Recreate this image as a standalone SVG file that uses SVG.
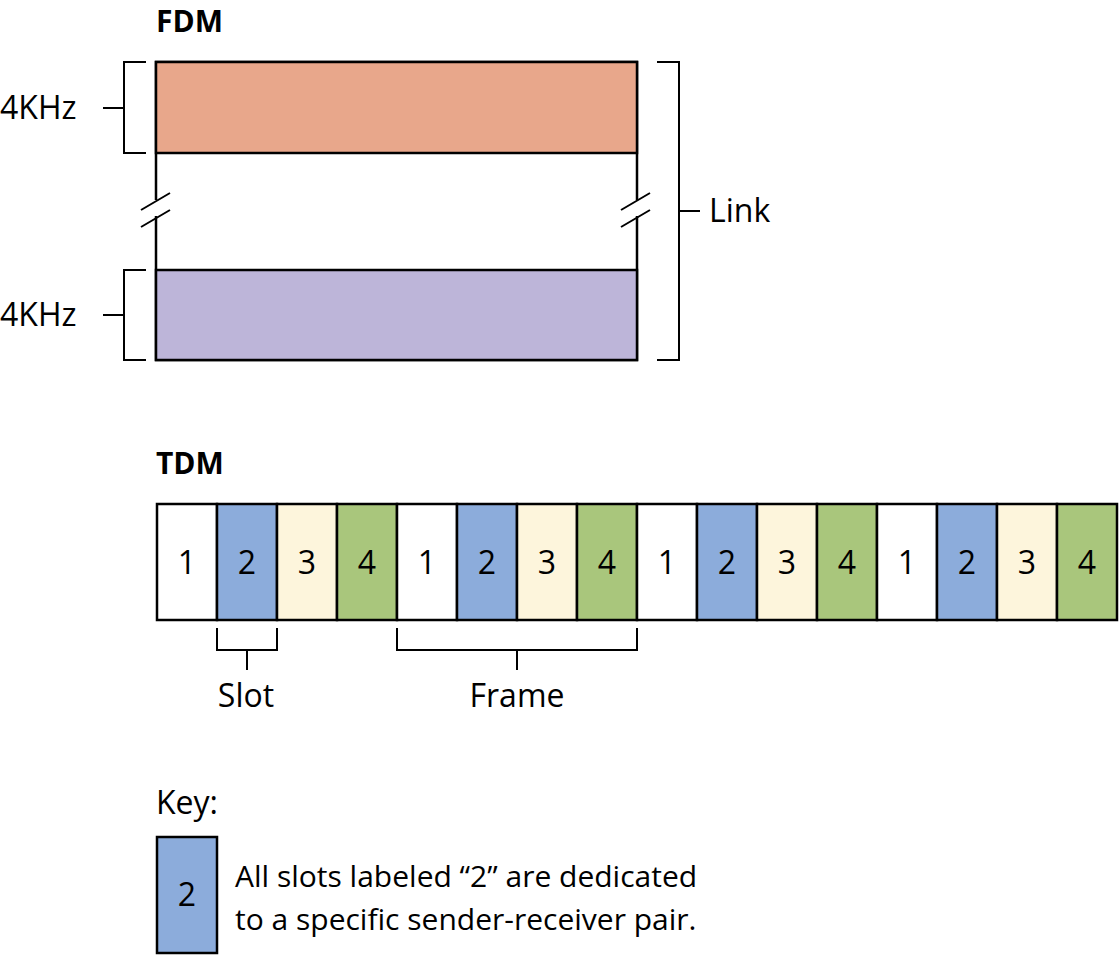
<svg xmlns="http://www.w3.org/2000/svg" width="1120" height="956" viewBox="0 0 1120 956">
<style>
text{font-family:"Open Sans","Noto Sans","Liberation Sans",sans-serif;fill:#000}
.t{font-size:32px}
.b{font-size:30px;font-weight:bold}
.n{font-size:32px;text-anchor:middle}
.c{stroke:#000;stroke-width:2.5}
.l{stroke:#000;stroke-width:2;fill:none}
.w{fill:#fff}.bl{fill:#8cacdb}.y{fill:#fdf5dc}.g{fill:#a9c67c}
</style>
<text class="b" x="156" y="32">FDM</text>
<g id="fdm">
<rect x="156" y="62" width="481" height="298" fill="#fff" class="c"/>
<rect x="156" y="62" width="481" height="91" fill="#e8a78b" class="c"/>
<rect x="156" y="270" width="481" height="90" fill="#bdb5d9" class="c"/>
<rect x="140" y="200" width="30" height="16" fill="#fff"/>
<rect x="621" y="200" width="30" height="16" fill="#fff"/>
<path class="l" d="M141 210 L170 193 M141 227 L170 210 M621 210 L650 193 M621 227 L650 210"/>
</g>
<g id="brackets">
<path class="l" d="M146 62 H124 V153 H146 M124 108 H103 M146 270 H124 V360 H146 M124 315 H103 M657 62 H679 V360 H657 M679 211 H700"/>
</g>
<text class="t" x="0" y="119">4KHz</text>
<text class="t" x="0" y="326">4KHz</text>
<text class="t" x="709" y="222">Link</text>
<text class="b" x="156" y="474">TDM</text>
<g id="tdm">
<rect class="c w" x="157" y="504" width="60" height="116"/><rect class="c bl" x="217" y="504" width="60" height="116"/><rect class="c y" x="277" y="504" width="60" height="116"/><rect class="c g" x="337" y="504" width="60" height="116"/>
<rect class="c w" x="397" y="504" width="60" height="116"/><rect class="c bl" x="457" y="504" width="60" height="116"/><rect class="c y" x="517" y="504" width="60" height="116"/><rect class="c g" x="577" y="504" width="60" height="116"/>
<rect class="c w" x="637" y="504" width="60" height="116"/><rect class="c bl" x="697" y="504" width="60" height="116"/><rect class="c y" x="757" y="504" width="60" height="116"/><rect class="c g" x="817" y="504" width="60" height="116"/>
<rect class="c w" x="877" y="504" width="60" height="116"/><rect class="c bl" x="937" y="504" width="60" height="116"/><rect class="c y" x="997" y="504" width="60" height="116"/><rect class="c g" x="1057" y="504" width="60" height="116"/>
<g>
<text class="n" x="187" y="574">1</text><text class="n" x="247" y="574">2</text><text class="n" x="307" y="574">3</text><text class="n" x="367" y="574">4</text>
<text class="n" x="427" y="574">1</text><text class="n" x="487" y="574">2</text><text class="n" x="547" y="574">3</text><text class="n" x="607" y="574">4</text>
<text class="n" x="667" y="574">1</text><text class="n" x="727" y="574">2</text><text class="n" x="787" y="574">3</text><text class="n" x="847" y="574">4</text>
<text class="n" x="907" y="574">1</text><text class="n" x="967" y="574">2</text><text class="n" x="1027" y="574">3</text><text class="n" x="1087" y="574">4</text>
</g>
</g>
<g id="tdm-brackets">
<path class="l" d="M217 628 V650 H277 V628 M247 650 V670 M397 628 V650 H637 V628 M517 650 V670"/>
</g>
<text class="n" x="246" y="707">Slot</text>
<text class="n" x="517" y="707">Frame</text>
<text class="t" x="156" y="814">Key:</text>
<g id="key">
<rect class="c bl" x="157" y="837" width="60" height="116"/>
<text class="n" x="187" y="906">2</text>
</g>
<text class="t" x="235" y="887" style="font-size:30px">All slots labeled “2” are dedicated</text>
<text class="t" x="235" y="930" style="font-size:30px">to a specific sender-receiver pair.</text>
</svg>
